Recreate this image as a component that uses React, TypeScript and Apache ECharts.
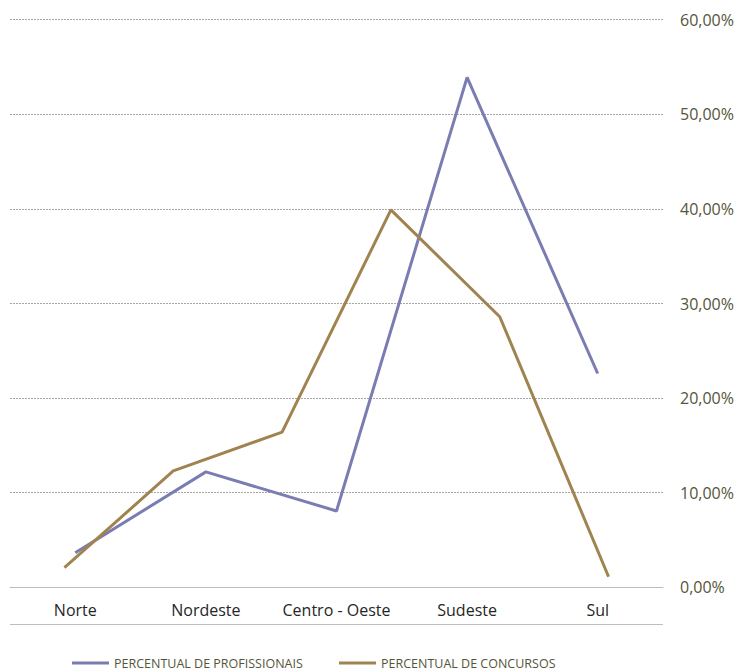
import React, { useEffect, useRef } from "react";
import * as echarts from "echarts";

// Regions along the main category axis
const regions = ["Norte", "Nordeste", "Centro - Oeste", "Sudeste", "Sul"];
// Percent of professionals per region
const profissionais = [3.66, 12.2, 8.07, 53.9, 22.6];
// Percent of public exams; plotted on its own six-slot category axis
const concursoSlots = ["1", "2", "3", "4", "5", "6"];
const concursos = [2.07, 12.3, 16.4, 39.9, 28.6, 1.12];
// Value axis ticks (percent)
const yMin = 0;
const yMax = 60;
const yStep = 10;

const purple = "#7a7db2";
const brown = "#a0844f";
const olive = "#55553a";

export default function App() {
  const ref = useRef<HTMLDivElement>(null);

  useEffect(() => {
    if (!ref.current) return;
    const chart = echarts.init(ref.current, null, { renderer: "svg" });
    const font = "'Open Sans', 'Noto Sans', sans-serif";
    const legendText = { color: olive, fontSize: 12.5, fontFamily: font, lineHeight: 14 };
    chart.setOption({
      animation: false,
      backgroundColor: "#ffffff",
      textStyle: { fontFamily: font },
      grid: { left: 10, right: 76, top: 19.7, bottom: 84.7, containLabel: false },
      xAxis: [
        {
          type: "category",
          data: regions,
          boundaryGap: true,
          axisLine: { show: true, lineStyle: { color: "#bdbdbd", width: 1 } },
          axisTick: { show: false },
          axisLabel: { interval: 0, color: "#262626", fontSize: 16, margin: 15, fontFamily: font },
          splitLine: { show: false },
        },
        {
          type: "category",
          data: concursoSlots,
          boundaryGap: true,
          position: "bottom",
          show: false,
        },
      ],
      yAxis: {
        type: "value",
        position: "right",
        min: yMin,
        max: yMax,
        interval: yStep,
        axisLine: { show: false },
        axisTick: { show: false },
        axisLabel: {
          color: olive,
          fontSize: 16,
          margin: 17,
          fontFamily: font,
          formatter: (v: number) => v.toFixed(2).replace(".", ",") + "%",
        },
        splitLine: { show: true, lineStyle: { color: "#a6a6a6", type: [2, 1], width: 1 } },
      },
      legend: [
        {
          data: ["PERCENTUAL DE PROFISSIONAIS"],
          left: 70,
          top: 654,
          padding: 2,
          icon: "rect",
          itemWidth: 37,
          itemHeight: 3,
          itemGap: 5,
          textStyle: legendText,
        },
        {
          data: ["PERCENTUAL DE CONCURSOS"],
          left: 337,
          top: 654,
          padding: 2,
          icon: "rect",
          itemWidth: 37,
          itemHeight: 3,
          itemGap: 5,
          textStyle: legendText,
        },
      ],
      graphic: [
        {
          type: "line",
          shape: { x1: 10, y1: 624.5, x2: 663, y2: 624.5 },
          style: { stroke: "#bdbdbd", lineWidth: 1 },
        },
      ],
      series: [
        {
          name: "PERCENTUAL DE PROFISSIONAIS",
          type: "line",
          xAxisIndex: 0,
          data: profissionais,
          showSymbol: false,
          symbol: "none",
          lineStyle: { color: purple, width: 3 },
          itemStyle: { color: purple },
        },
        {
          name: "PERCENTUAL DE CONCURSOS",
          type: "line",
          xAxisIndex: 1,
          data: concursos,
          showSymbol: false,
          symbol: "none",
          lineStyle: { color: brown, width: 3 },
          itemStyle: { color: brown },
        },
      ],
    });
    return () => chart.dispose();
  }, []);

  return <div ref={ref} style={{ width: 739, height: 672, position: "absolute", left: 0, top: 0 }} />;
}
